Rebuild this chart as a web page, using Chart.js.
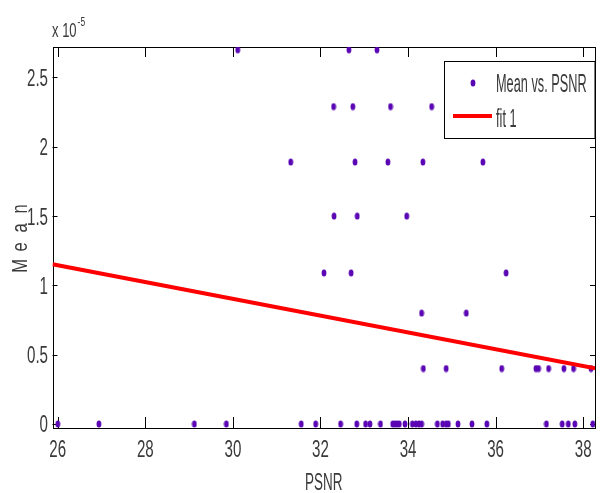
<!DOCTYPE html>
<html>
<head>
<meta charset="utf-8">
<script src="https://cdn.jsdelivr.net/npm/chart.js@4.4.0/dist/chart.umd.min.js"></script>
<style>
  html, body { margin: 0; padding: 0; background: #fff; }
  #wrap { width: 600px; height: 493px; }
</style>
</head>
<body>
<div id="wrap"><canvas id="myChart" width="600" height="493"></canvas></div>
<script>
// Mean vs. PSNR data (Mean in units of 1e-5)
const psnr = [
  30.11, 32.65, 33.29,
  32.30, 32.74, 33.60, 34.54,
  31.32, 32.79, 33.54, 34.34, 35.71,
  32.31, 32.84, 33.97,
  32.08, 32.70, 36.24,
  34.31, 35.33,
  34.35, 34.87, 36.14, 36.92, 36.98, 37.21, 37.56, 37.78, 38.18,
  26.00, 26.94, 29.12, 29.85, 31.56, 31.89, 32.46, 32.83, 33.03, 33.13,
  33.37, 33.65, 33.70, 33.75, 33.80, 33.93, 34.10, 34.18, 34.25, 34.31,
  34.67, 34.79, 34.87, 34.92, 35.14, 35.46, 35.80, 37.16, 37.52, 37.66,
  37.81, 38.22
];
const mean = [
  2.70, 2.70, 2.70,
  2.29, 2.29, 2.29, 2.29,
  1.89, 1.89, 1.89, 1.89, 1.89,
  1.50, 1.50, 1.50,
  1.09, 1.09, 1.09,
  0.80, 0.80,
  0.40, 0.40, 0.40, 0.40, 0.40, 0.40, 0.40, 0.40, 0.40,
  0, 0, 0, 0, 0, 0, 0, 0, 0, 0,
  0, 0, 0, 0, 0, 0, 0, 0, 0, 0,
  0, 0, 0, 0, 0, 0, 0, 0, 0, 0,
  0, 0
];
// linear fit ("fit 1")
const fitX = [25.88, 38.27];
const fitY = [1.153, 0.402];

const xTicks = [26, 28, 30, 32, 34, 36, 38];
const yTicks = [0, 0.5, 1, 1.5, 2, 2.5];

const purple = "#5a06b4";
const red = "#ff0000";
const textColor = "#3a3a3a";

// small upright ellipse marker like the original
const dot = document.createElement("canvas");
dot.width = 6;
dot.height = 8;
(() => {
  const c = dot.getContext("2d");
  c.fillStyle = purple;
  c.beginPath();
  c.ellipse(3, 4, 2.4, 3.5, 0, 0, Math.PI * 2);
  c.fill();
})();

// condensed text helper
function narrowText(c, str, x, y, size, sx, align) {
  c.save();
  c.font = size + "px 'Liberation Sans', Arial, sans-serif";
  c.fillStyle = textColor;
  c.textBaseline = "alphabetic";
  const w = c.measureText(str).width * sx;
  let x0 = x;
  if (align === "center") x0 = x - w / 2;
  if (align === "right") x0 = x - w;
  c.translate(x0, y);
  c.scale(sx, 1);
  c.fillText(str, 0, 0);
  c.restore();
  return w;
}

const framePlugin = {
  id: "frame",
  beforeDatasetsDraw(chart) {
    const c = chart.ctx;
    const a = chart.chartArea;
    const xs = chart.scales.x;
    const ys = chart.scales.y;
    c.save();
    c.strokeStyle = "#000";
    c.lineWidth = 1;
    c.strokeRect(Math.round(a.left) + 0.5, Math.round(a.top) + 0.5,
      Math.round(a.right - a.left) - 1, Math.round(a.bottom - a.top));
    c.beginPath();
    xTicks.forEach((v) => {
      const px = Math.round(xs.getPixelForValue(v)) + 0.5;
      c.moveTo(px, a.bottom);
      c.lineTo(px, a.bottom - 11);
      c.moveTo(px, a.top);
      c.lineTo(px, a.top + 10);
    });
    yTicks.forEach((v) => {
      const py = Math.round(ys.getPixelForValue(v)) + 0.5;
      c.moveTo(a.left, py);
      c.lineTo(a.left + 5, py);
      c.moveTo(a.right, py);
      c.lineTo(a.right - 5, py);
    });
    c.stroke();
    c.restore();

    // tick labels
    xTicks.forEach((v) => {
      narrowText(c, String(v), xs.getPixelForValue(v), 457, 24, 0.63, "center");
    });
    yTicks.forEach((v) => {
      narrowText(c, String(v), 48, ys.getPixelForValue(v) + 8.5, 24, 0.63, "right");
    });

    // exponent
    const w = narrowText(c, "x 10", 52, 37, 21, 0.62, "left");
    narrowText(c, "-5", 52 + w + 1, 26, 12, 0.7, "left");

    // axis titles
    narrowText(c, "PSNR", (a.left + a.right) / 2, 490, 24, 0.56, "center");
    c.save();
    c.translate(27, (a.top + a.bottom) / 2);
    c.rotate(-Math.PI / 2);
    const letters = ["M", "e", "a", "n"];
    letters.forEach((ch, i) => {
      narrowText(c, ch, (i - 1.5) * 19, 0, 22, 0.75, "center");
    });
    c.restore();
  },
  afterDraw(chart) {
    const c = chart.ctx;
    const bx = 444.5, by = 61.5, bw = 150.5, bh = 77;
    c.save();
    c.fillStyle = "#fff";
    c.fillRect(bx, by, bw, bh);
    c.strokeStyle = "#000";
    c.lineWidth = 1;
    c.strokeRect(bx, by, bw, bh);
    c.drawImage(dot, 470, 79);
    c.strokeStyle = red;
    c.lineWidth = 4;
    c.beginPath();
    c.moveTo(453, 116);
    c.lineTo(492, 116);
    c.stroke();
    c.restore();
    narrowText(c, chart.data.datasets[0].label, 496, 92, 25, 0.51, "left");
    narrowText(c, chart.data.datasets[1].label, 496, 127, 25, 0.51, "left");
  }
};

const ctx = document.getElementById("myChart");
const myChart = new Chart(ctx, {
  type: "scatter",
  data: {
    datasets: [
      {
        label: "Mean vs. PSNR",
        data: psnr.map((x, i) => ({ x: x, y: mean[i] })),
        pointStyle: dot,
        pointRadius: 4,
        backgroundColor: purple,
        borderColor: purple,
        order: 1,
      },
      {
        type: "line",
        label: "fit 1",
        data: fitX.map((x, i) => ({ x: x, y: fitY[i] })),
        borderColor: red,
        borderWidth: 4,
        pointRadius: 0,
        fill: false,
        order: 0,
      },
    ],
  },
  options: {
    responsive: false,
    animation: false,
    devicePixelRatio: 1,
    layout: { padding: { top: 47, right: 2, left: 0, bottom: 0 } },
    plugins: {
      legend: { display: false },
      tooltip: { enabled: false },
    },
    scales: {
      x: {
        type: "linear",
        min: 25.88,
        max: 38.27,
        ticks: { display: false, stepSize: 2, includeBounds: false },
        grid: { display: false },
        border: { display: false },
        afterFit: (s) => { s.height = 65; },
      },
      y: {
        min: -0.029,
        max: 2.72,
        ticks: { display: false, stepSize: 0.5, includeBounds: false },
        grid: { display: false },
        border: { display: false },
        afterFit: (s) => { s.width = 52.5; },
      },
    },
  },
  plugins: [framePlugin],
});
</script>
</body>
</html>
